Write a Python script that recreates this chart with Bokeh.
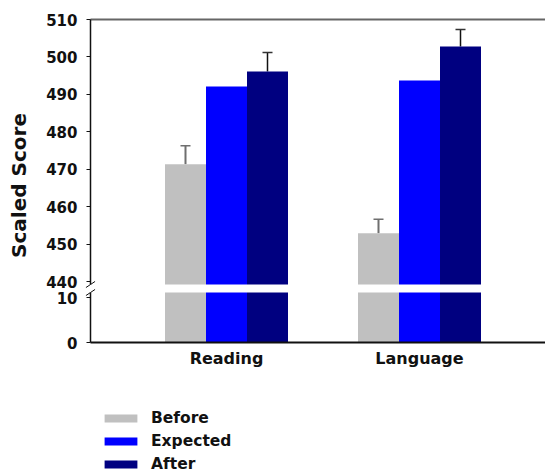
import math
from bokeh.plotting import figure
from bokeh.models import (ColumnDataSource, Range1d, FixedTicker, Whisker, TeeHead,
                          Label, Legend, LegendItem, LinearAxis)
from bokeh.embed import file_html
from bokeh.resources import INLINE
from bokeh.transform import dodge

# ---- data ----
categories = ["Reading", "Language"]
series = ["Before", "Expected", "After"]
before = [471.3, 452.9]
expected = [492.1, 493.7]
after = [496.1, 502.8]
before_err = [5.0, 3.7]
after_err = [5.1, 4.5]
upper_ticks = [440, 450, 460, 470, 480, 490, 500, 510]
lower_ticks = [0, 10]
colors = ["#C0C0C0", "#0000FF", "#000080"]

# ---- layout constants (pixels) ----
W, H = 545, 473
GROUP0_PX, UNIT_PX = 226.0, 193.0          # x pixel of first group, pixels per group
AXIS_PX = 90.0                              # x pixel of the y axis
UP_TOP_PX, UP_440_PX, BREAK_HI_PX = 19.0, 281.0, 284.0
LO_ZERO_PX, LO_10_PX, BREAK_LO_PX = 342.0, 297.0, 292.0

up_scale = (UP_440_PX - UP_TOP_PX) / (upper_ticks[-1] - upper_ticks[0])
lo_scale = (LO_ZERO_PX - LO_10_PX) / (lower_ticks[1] - lower_ticks[0])
UP_MAX = upper_ticks[-1]
BREAK_HI = upper_ticks[0] - (BREAK_HI_PX - UP_440_PX) / up_scale
BREAK_LO = (LO_ZERO_PX - BREAK_LO_PX) / lo_scale
AXIS_X = (AXIS_PX - GROUP0_PX) / UNIT_PX
X_END = (W - GROUP0_PX) / UNIT_PX
BAR_W = 41.0 / UNIT_PX

FONT = "DejaVu Sans"
TXT = "#111111"

x_idx = list(range(len(categories)))
src = ColumnDataSource(dict(
    x=x_idx, Before=before, Expected=expected, After=after,
    before_up=[b + e for b, e in zip(before, before_err)],
    after_up=[a + e for a, e in zip(after, after_err)],
))

p = figure(width=W, height=H, output_backend="svg", toolbar_location=None,
           x_axis_location=None, y_axis_location=None,
           x_range=Range1d(-GROUP0_PX / UNIT_PX, X_END),
           y_range=Range1d(-(H - LO_ZERO_PX) / lo_scale, LO_ZERO_PX / lo_scale),
           min_border=0, min_border_left=0, min_border_right=0,
           min_border_top=0, min_border_bottom=0)
p.extra_y_ranges = {"upper": Range1d(UP_MAX - (H - UP_TOP_PX) / up_scale,
                                     UP_MAX + UP_TOP_PX / up_scale)}
p.outline_line_color = None
p.grid.visible = False

# bars: upper segment (from break to value) and lower stub (0 to break)
lower_rs = []
for i, s in enumerate(series):
    p.vbar(x=dodge("x", (i - 1) * BAR_W), top=s, bottom=BREAK_HI, width=BAR_W,
           fill_color=colors[i], line_color=None, source=src, y_range_name="upper")
    r = p.vbar(x=dodge("x", (i - 1) * BAR_W), top=BREAK_LO, bottom=0, width=BAR_W,
               fill_color=colors[i], line_color=None, source=src)
    lower_rs.append(r)

# error bars
p.add_layout(Whisker(base=dodge("x", -BAR_W), upper="before_up", lower="Before", source=src,
                     y_range_name="upper", line_color="#6f6f6f", line_width=2, lower_head=None,
                     upper_head=TeeHead(size=10, line_color="#6f6f6f", line_width=1.5)))
p.add_layout(Whisker(base=dodge("x", BAR_W), upper="after_up", lower="After", source=src,
                     y_range_name="upper", line_color="#111111", line_width=1.5, lower_head=None,
                     upper_head=TeeHead(size=10, line_color="#333333", line_width=1.5)))


def style_axis(ax):
    ax.major_label_text_font = FONT
    ax.major_label_text_font_style = "bold"
    ax.major_label_text_color = TXT
    ax.minor_tick_line_color = None
    ax.axis_line_color = TXT


# y axes
ya_up = LinearAxis(y_range_name="upper", fixed_location=AXIS_X, bounds=(BREAK_HI, UP_MAX),
                   ticker=FixedTicker(ticks=upper_ticks, minor_ticks=[]))
ya_lo = LinearAxis(fixed_location=AXIS_X, bounds=(0, BREAK_LO),
                   ticker=FixedTicker(ticks=lower_ticks, minor_ticks=[]))
for ax in (ya_up, ya_lo):
    style_axis(ax)
    ax.major_label_text_font_size = "15px"
    ax.major_tick_out = 4
    ax.major_tick_in = 0
    ax.major_tick_line_color = TXT
    ax.axis_line_width = 1.5
    ax.major_label_standoff = 9
    p.add_layout(ax, "left")

# x axis
xa = LinearAxis(fixed_location=0, bounds=(AXIS_X, X_END),
                ticker=FixedTicker(ticks=x_idx, minor_ticks=[]),
                major_label_overrides={i: c for i, c in zip(x_idx, categories)})
style_axis(xa)
xa.major_label_text_font_size = "16px"
xa.major_tick_line_color = None
xa.major_tick_out = 0
xa.major_tick_in = 0
xa.axis_line_width = 2
xa.major_label_standoff = 6
p.add_layout(xa, "below")

# top border line
ta = LinearAxis(y_range_name="upper", fixed_location=UP_MAX, bounds=(AXIS_X, X_END),
                ticker=FixedTicker(ticks=[], minor_ticks=[]))
ta.major_tick_line_color = None
ta.minor_tick_line_color = None
ta.major_label_text_font_size = "0px"
ta.axis_line_color = "#666666"
ta.axis_line_width = 2
p.add_layout(ta, "above")

# axis break marks (short diagonal strokes across the axis)
ang = math.atan2(6, 9)
p.ray(x=[AXIS_X, AXIS_X], y=[BREAK_HI, BREAK_HI], angle=[ang, ang + math.pi], length=5.5,
      length_units="screen", line_color=TXT, line_width=1, y_range_name="upper")
p.ray(x=[AXIS_X, AXIS_X], y=[BREAK_LO, BREAK_LO], angle=[ang, ang + math.pi], length=5.5,
      length_units="screen", line_color=TXT, line_width=1)

# y axis title
p.add_layout(Label(x=18, y=H - 185, x_units="screen", y_units="screen", text="Scaled Score",
                   angle=math.pi / 2, text_align="center", text_baseline="middle",
                   text_font=FONT, text_font_style="bold", text_font_size="20px",
                   text_color=TXT))

legend = Legend(items=[LegendItem(label=s, renderers=[r]) for s, r in zip(series, lower_rs)],
                location=(100, 0), orientation="vertical", glyph_width=41, glyph_height=10,
                label_height=10, spacing=5, padding=0, margin=0, label_standoff=10,
                border_line_color=None, background_fill_alpha=0,
                label_text_font=FONT, label_text_font_style="bold",
                label_text_font_size="15.5px", label_text_color=TXT)
p.add_layout(legend, "center")

open("out.html", "w").write(file_html(p, INLINE))
